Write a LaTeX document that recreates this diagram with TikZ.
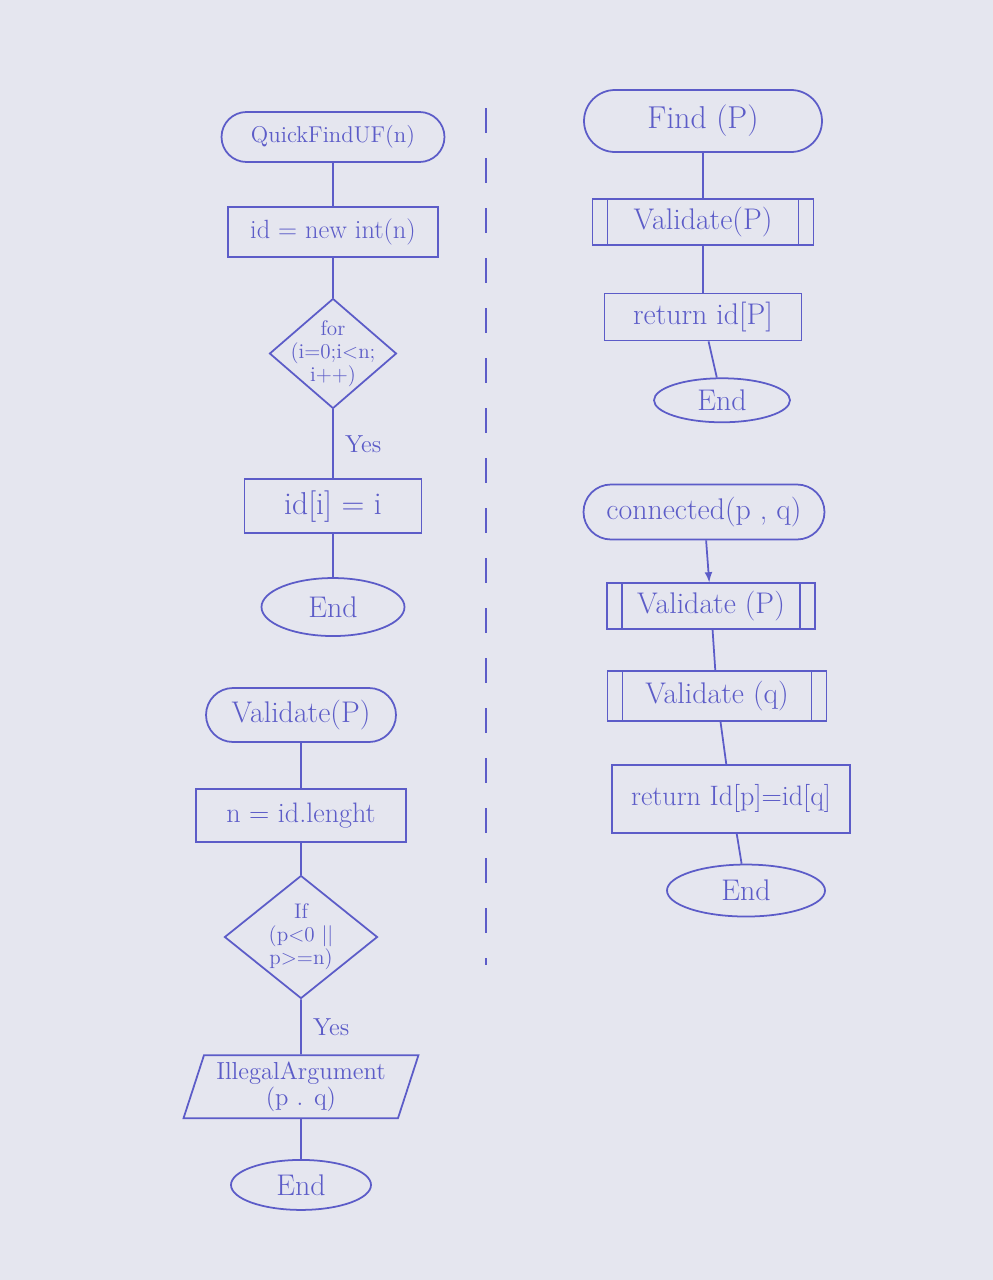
\documentclass[tikz,border=0pt]{standalone}
\usetikzlibrary{positioning, shapes.geometric, shapes.misc}

\definecolor{ink}{RGB}{92,92,200}
\definecolor{paper}{RGB}{229,230,239}

\begin{document}
\begin{tikzpicture}

\tikzstyle{box}=[draw=ink, text=ink, line width=1pt, inner sep=2pt, font=\fontsize{17}{19}\selectfont]
\tikzstyle{terminal}=[box, rounded rectangle]
\tikzstyle{stop}=[box, ellipse]
\tikzstyle{process}=[box, rectangle]
\tikzstyle{decision}=[box, diamond, inner sep=-6pt, align=center, font=\fontsize{12}{13}\selectfont]
\tikzstyle{io}=[box, trapezium, trapezium left angle=72, trapezium right angle=108, align=center, font=\fontsize{14}{15}\selectfont]
\tikzstyle{subproc}=[box, rectangle, path picture={
  \draw[ink, line width=1pt]
    ([xshift=0.3cm]path picture bounding box.north west) -- ([xshift=0.3cm]path picture bounding box.south west)
    ([xshift=-0.3cm]path picture bounding box.north east) -- ([xshift=-0.3cm]path picture bounding box.south east);}]
\tikzstyle{answer}=[text=ink, font=\fontsize{14}{16}\selectfont]

\useasboundingbox (0,0) rectangle (19.86,-25.6);
\fill[paper] (0,0) rectangle (19.86,-25.6);

% QuickFindUF
\node[terminal, minimum width=4.6cm, minimum height=1cm, font=\fontsize{13}{15}\selectfont] (qf) at (6.66,-2.74) {QuickFindUF(n)};
\node[process, minimum width=4.2cm, minimum height=1cm, font=\fontsize{15}{17}\selectfont, below=0.86cm of qf] (init) {id = new int(n)};
\node[decision, aspect=1.15, minimum width=2.54cm, minimum height=2.2cm, below=0.8cm of init] (loop) {for\\(i=0;i<n;\\i++)};
\node[process, minimum width=3.54cm, minimum height=1.08cm, font=\fontsize{18}{20}\selectfont, below=1.38cm of loop] (assign) {id[i] = i};
\node[stop, minimum width=2.86cm, minimum height=1.16cm, below=0.86cm of assign] (end1) {End};

% Validate
\node[terminal, minimum width=3.94cm, minimum height=1.08cm] (val) at (6.02,-14.3) {Validate(P)};
\node[process, minimum width=4.2cm, minimum height=1.06cm, font=\fontsize{16}{18}\selectfont, below=0.9cm of val] (len) {n = id.lenght};
\node[decision, aspect=1.24, minimum width=3.06cm, minimum height=2.46cm, below=0.64cm of len] (cond) {If\\(p<0 ||\\p>=n)};
\node[io, minimum width=4.7cm, minimum height=1.24cm, below=1.1cm of cond] (err) {IllegalArgument\\(p . q)};
\node[stop, minimum width=2.8cm, minimum height=1cm, below=0.8cm of err] (end2) {End};

% Find
\node[terminal, minimum width=4.9cm, minimum height=1.24cm, font=\fontsize{18}{20}\selectfont] (find) at (14.06,-2.42) {Find (P)};
\node[subproc, minimum width=4.42cm, minimum height=0.92cm, below=0.9cm of find] (valp) {Validate(P)};
\node[process, minimum width=3.94cm, minimum height=0.94cm, below=0.94cm of valp] (ret) {return id[P]};
\node[stop, minimum width=2.72cm, minimum height=0.88cm, below=0.72cm of ret, xshift=0.38cm] (end3) {End};

% connected
\node[terminal, minimum width=4.96cm, minimum height=1.1cm] (conn) at (14.08,-10.24) {connected(p , q)};
\node[subproc, minimum width=4.16cm, minimum height=0.92cm, below=0.84cm of conn, xshift=0.14cm] (valp2) {Validate (P)};
\node[subproc, minimum width=4.38cm, minimum height=1cm, below=0.8cm of valp2, xshift=0.12cm] (valq) {Validate (q)};
\node[process, minimum width=4.76cm, minimum height=1.36cm, font=\fontsize{16}{18}\selectfont, below=0.84cm of valq, xshift=0.28cm] (ret2) {return Id[p]=id[q]};
\node[stop, minimum width=3.16cm, minimum height=1.04cm, below=0.6cm of ret2, xshift=0.3cm] (end4) {End};

\coordinate (dtop) at (9.72,-2.16);
\coordinate (dbot) at (9.72,-19.3);

\draw[ink, line width=1pt]
(qf) edge (init)
(init) edge (loop)
(loop) edge node[answer, right=3pt] {Yes} (assign)
(assign) edge (end1)
(val) edge (len)
(len) edge (cond)
(cond) edge node[answer, right=3pt] {Yes} (err)
(err) edge (end2)
(find) edge (valp)
(valp) edge (ret)
(ret) edge (end3)
(conn) edge[->, >=latex] (valp2)
(valp2) edge (valq)
(valq) edge (ret2)
(ret2) edge (end4);

\draw[ink, line width=1pt, dash pattern=on 0.5cm off 0.5cm] (dtop) -- (dbot);

\end{tikzpicture}
\end{document}
